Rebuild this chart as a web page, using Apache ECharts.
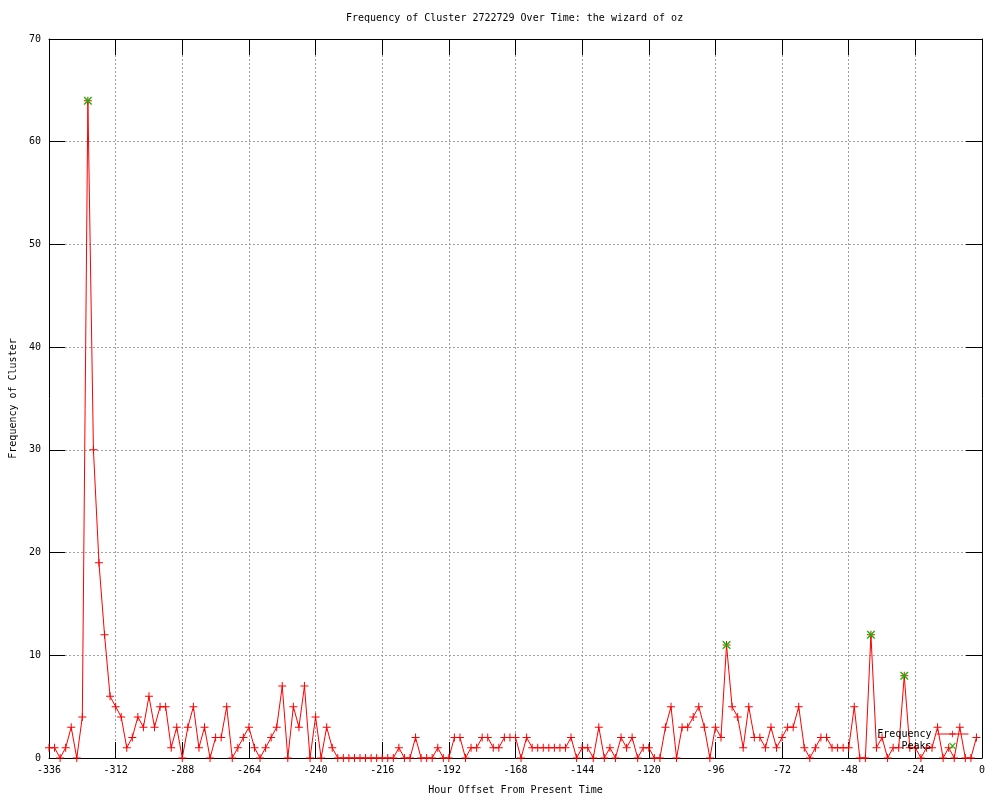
<!DOCTYPE html>
<html>
<head>
<meta charset="utf-8">
<title>Frequency of Cluster 2722729 Over Time</title>
<script src="https://cdn.jsdelivr.net/npm/echarts@6.0.0/dist/echarts.min.js"></script>
<style>
  html, body { margin: 0; padding: 0; background: #fff; }
  #chart { width: 1000px; height: 800px; }
</style>
</head>
<body>
<div id="chart"></div>
<script>
// hour offsets (every 2 hours)
const hours = [
  -336, -334, -332, -330, -328, -326, -324, -322, -320, -318, -316, -314,
  -312, -310, -308, -306, -304, -302, -300, -298, -296, -294, -292, -290,
  -288, -286, -284, -282, -280, -278, -276, -274, -272, -270, -268, -266,
  -264, -262, -260, -258, -256, -254, -252, -250, -248, -246, -244, -242,
  -240, -238, -236, -234, -232, -230, -228, -226, -224, -222, -220, -218,
  -216, -214, -212, -210, -208, -206, -204, -202, -200, -198, -196, -194,
  -192, -190, -188, -186, -184, -182, -180, -178, -176, -174, -172, -170,
  -168, -166, -164, -162, -160, -158, -156, -154, -152, -150, -148, -146,
  -144, -142, -140, -138, -136, -134, -132, -130, -128, -126, -124, -122,
  -120, -118, -116, -114, -112, -110, -108, -106, -104, -102, -100, -98,
  -96, -94, -92, -90, -88, -86, -84, -82, -80, -78, -76, -74,
  -72, -70, -68, -66, -64, -62, -60, -58, -56, -54, -52, -50,
  -48, -46, -44, -42, -40, -38, -36, -34, -32, -30, -28, -26,
  -24, -22, -20, -18, -16, -14, -12, -10, -8, -6, -4, -2
];
// cluster frequency per point
const frequency = [
  1, 1, 0, 1, 3, 0, 4, 64, 30, 19, 12, 6,
  5, 4, 1, 2, 4, 3, 6, 3, 5, 5, 1, 3,
  0, 3, 5, 1, 3, 0, 2, 2, 5, 0, 1, 2,
  3, 1, 0, 1, 2, 3, 7, 0, 5, 3, 7, 0,
  4, 0, 3, 1, 0, 0, 0, 0, 0, 0, 0, 0,
  0, 0, 0, 1, 0, 0, 2, 0, 0, 0, 1, 0,
  0, 2, 2, 0, 1, 1, 2, 2, 1, 1, 2, 2,
  2, 0, 2, 1, 1, 1, 1, 1, 1, 1, 2, 0,
  1, 1, 0, 3, 0, 1, 0, 2, 1, 2, 0, 1,
  1, 0, 0, 3, 5, 0, 3, 3, 4, 5, 3, 0,
  3, 2, 11, 5, 4, 1, 5, 2, 2, 1, 3, 1,
  2, 3, 3, 5, 1, 0, 1, 2, 2, 1, 1, 1,
  1, 5, 0, 0, 12, 1, 2, 0, 1, 1, 8, 1,
  1, 0, 1, 1, 3, 0, 1, 0, 3, 0, 0, 2
];
// detected peaks
const peakHours = [-322, -92, -40, -28];
const peakValues = [64, 11, 12, 8];

const FONT = 'DejaVu Sans Mono';
// gnuplot style point shapes
const plusIcon = 'path://M0,3.5L8,3.5L8,4.5L0,4.5Z M3.5,0L4.5,0L4.5,8L3.5,8Z';
const crossIcon = 'path://M0,0L1,0L8,7L8,8L7,8L0,1Z M8,0L8,1L1,8L0,8L0,7L7,0Z';

const freqData = hours.map((h, i) => [h, frequency[i]]);
const peakData = peakHours.map((h, i) => [h, peakValues[i]]);

const gridLine = { show: true, lineStyle: { color: '#a0a0a0', type: [2, 2], width: 1 } };
const tick = { show: true, inside: true, length: 16, lineStyle: { color: '#000', width: 1 } };
const axisLine = { show: true, onZero: false, lineStyle: { color: '#000', width: 1 } };
const labelStyle = { fontFamily: FONT, fontSize: 10, color: '#000' };

const chart = echarts.init(document.getElementById('chart'));
const option = {
  animation: false,
  backgroundColor: '#fff',
  textStyle: { fontFamily: FONT, fontSize: 10, color: '#000' },
  title: {
    text: 'Frequency of Cluster 2722729 Over Time: the wizard of oz',
    left: 346,
    top: 13,
    padding: 0,
    textStyle: { fontFamily: FONT, fontSize: 10, fontWeight: 'normal', color: '#000' }
  },
  legend: {
    orient: 'vertical',
    right: 31,
    top: 729,
    align: 'right',
    padding: 0,
    itemWidth: 32,
    itemHeight: 8,
    itemGap: 2,
    selectedMode: false,
    textStyle: labelStyle,
    lineStyle: { width: 1 },
    data: ['Frequency', 'Peaks']
  },
  grid: { left: 49, right: 18, top: 39, bottom: 40 },
  xAxis: [
    {
      type: 'value', min: -336, max: 0, interval: 24, position: 'bottom',
      axisLine: axisLine, axisTick: tick,
      axisLabel: Object.assign({ margin: 7 }, labelStyle),
      splitLine: gridLine,
      name: 'Hour Offset From Present Time', nameLocation: 'middle', nameGap: 27,
      nameTextStyle: labelStyle
    },
    {
      type: 'value', min: -336, max: 0, interval: 24, position: 'top',
      axisLine: axisLine, axisTick: tick, axisLabel: { show: false }, splitLine: { show: false }
    }
  ],
  yAxis: [
    {
      type: 'value', min: 0, max: 70, interval: 10, position: 'left',
      axisLine: axisLine, axisTick: tick,
      axisLabel: Object.assign({ margin: 8 }, labelStyle),
      splitLine: gridLine,
      name: 'Frequency of Cluster', nameLocation: 'middle', nameGap: 30,
      nameTextStyle: labelStyle
    },
    {
      type: 'value', min: 0, max: 70, interval: 10, position: 'right',
      axisLine: axisLine, axisTick: tick, axisLabel: { show: false }, splitLine: { show: false }
    }
  ],
  series: [
    {
      name: 'Frequency',
      type: 'line',
      data: freqData,
      symbol: plusIcon,
      symbolSize: 8,
      showAllSymbol: true,
      clip: false,
      lineStyle: { color: '#ff0000', width: 1 },
      itemStyle: { color: '#ff0000' },
      z: 3
    },
    {
      name: 'Peaks',
      type: 'line',
      data: peakData,
      symbol: crossIcon,
      symbolSize: 8,
      showAllSymbol: true,
      lineStyle: { opacity: 0, width: 0 },
      itemStyle: { color: '#00c000' },
      z: 4
    }
  ]
};
chart.setOption(option);
</script>
</body>
</html>
